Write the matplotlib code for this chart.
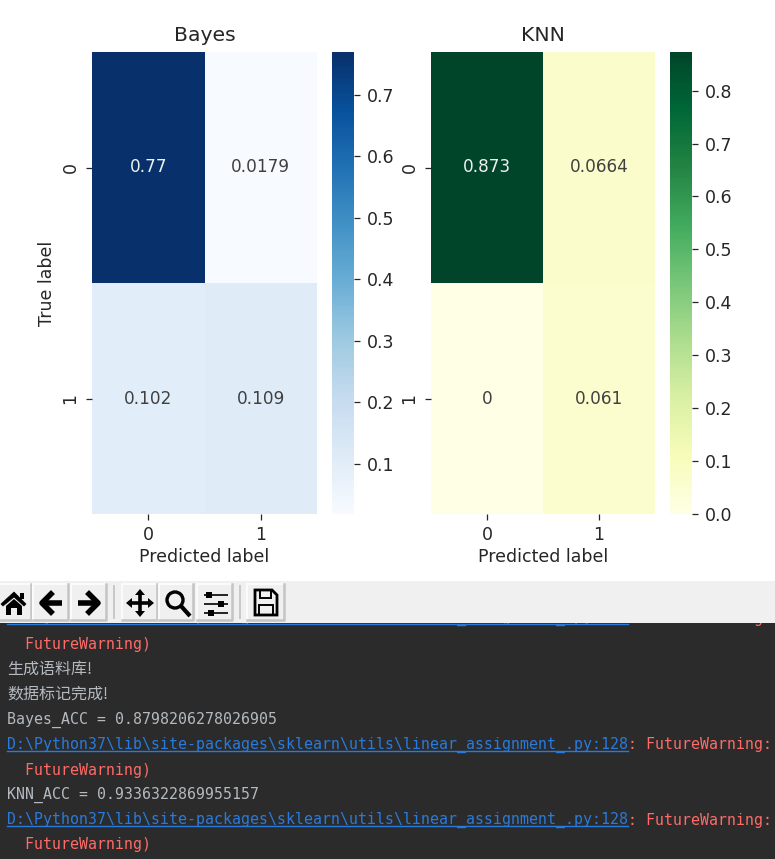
import numpy as np
import matplotlib
matplotlib.use("Agg")
import matplotlib.pyplot as plt
from matplotlib.patches import Rectangle, Polygon, Circle

W, H = 775, 859

titles = ["Bayes", "KNN"]
bayes_matrix = [[0.77, 0.0179], [0.102, 0.109]]
knn_matrix = [[0.873, 0.0664], [0, 0.061]]
bayes_labels = [["0.77", "0.0179"], ["0.102", "0.109"]]
knn_labels = [["0.873", "0.0664"], ["0", "0.061"]]
class_labels = ["0", "1"]
bayes_ticks = [0.1, 0.2, 0.3, 0.4, 0.5, 0.6, 0.7]
knn_ticks = [0.0, 0.1, 0.2, 0.3, 0.4, 0.5, 0.6, 0.7, 0.8]
cmaps = ["Blues", "YlGn"]

LINK = "D:\\Python37\\lib\\site-packages\\sklearn\\utils\\linear_assignment_.py:128"
WARN = ": FutureWarning:"
console = [
    (645, "warn_end", "  FutureWarning)"),
    (669, "cjk", "生成语料库!"),
    (694, "cjk", "数据标记完成!"),
    (720, "plain", "Bayes_ACC = 0.8798206278026905"),
    (745, "link", None),
    (770, "warn_end", "  FutureWarning)"),
    (795, "plain", "KNN_ACC = 0.9336322869955157"),
    (820, "link", None),
    (845, "warn_end", "  FutureWarning)"),
]

fig = plt.figure(figsize=(W / 100, H / 100), dpi=100, facecolor="white")


def box(x0, y0, x1, y1, **kw):
    return fig.add_axes([x0 / W, 1 - y1 / H, (x1 - x0) / W, (y1 - y0) / H], **kw)


# ---- heatmaps -------------------------------------------------------------
FS = 12.5
INK = "#262626"
panels = [
    (92, 317, 332, 354, bayes_matrix, bayes_labels, bayes_ticks, True),
    (431, 655, 670, 692, knn_matrix, knn_labels, knn_ticks, False),
]
for i, (x0, x1, c0, c1, mat, lab, cticks, ylab) in enumerate(panels):
    ax = box(x0, 52, x1, 514)
    m = np.array(mat)
    mesh = ax.pcolormesh(m, cmap=cmaps[i], vmin=m.min(), vmax=m.max())
    ax.set_ylim(2, 0)
    ax.set_xticks([0.5, 1.5], class_labels, fontsize=FS, color=INK)
    ax.set_yticks([0.5, 1.5], class_labels, fontsize=FS, rotation=90, va="center", color=INK)
    ax.tick_params(length=4.5, width=0.9, pad=4.5, color=INK)
    for s in ax.spines.values():
        s.set_visible(False)
    ax.set_title(titles[i], fontsize=14.7, pad=8, color=INK)
    ax.set_xlabel("Predicted label", fontsize=FS, labelpad=2.8, color=INK)
    if ylab:
        ax.set_ylabel("True label", fontsize=FS, labelpad=4, color=INK)
    mid = (m.min() + m.max()) / 2
    for r in range(2):
        for c in range(2):
            ax.text(c + 0.5, r + 0.5, lab[r][c], ha="center", va="center", fontsize=12.2,
                    color="#f0f0f0" if m[r, c] > mid else "#404040")
    cax = box(c0, 52, c1, 514)
    cb = fig.colorbar(mesh, cax=cax)
    cb.outline.set_visible(False)
    cb.set_ticks(cticks)
    cb.ax.tick_params(labelsize=FS, labelcolor=INK, length=4.5, width=0.9, pad=5, color=INK)

# ---- window chrome --------------------------------------------------------
ov = fig.add_axes([0, 0, 1, 1], zorder=5)
ov.set_xlim(0, W)
ov.set_ylim(H, 0)
ov.axis("off")
ov.patch.set_alpha(0)

# console
ov.add_patch(Rectangle((0, 623), W, H - 623, fc="#2b2b2b", ec="none", zorder=1))
MONO = dict(family="DejaVu Sans Mono", fontsize=10.76, va="center", zorder=2)
BLUE, RED, GREY = "#287bde", "#ff6b68", "#b4bac0"


def link_line(y):
    ov.text(7, y, LINK, color=BLUE, **MONO)
    ov.plot([7, 628], [y + 6, y + 6], color=BLUE, lw=1, zorder=2)
    ov.text(628, y, WARN, color=RED, **MONO)


link_line(618)
for y, kind, txt in console:
    if kind == "link":
        link_line(y)
    elif kind == "warn_end":
        ov.text(7, y, txt, color=RED, **MONO)
    elif kind == "plain":
        ov.text(7, y, txt, color=GREY, **MONO)
    else:
        ov.text(7, y, txt, color=GREY, family=["Noto Sans CJK SC", "DejaVu Sans"],
                fontsize=11.5, va="center", zorder=2)

# toolbar
ov.add_patch(Rectangle((0, 581), W, 42, fc="#f0f0f0", ec="none", zorder=3))
for x0, x1 in [(-3, 31), (33, 68), (71, 106), (122, 157), (159, 193), (197, 232), (247, 284)]:
    ov.add_patch(Rectangle((x0, 584), x1 - x0, 36, fc="#f0f0f0", ec="none", zorder=3))
    ov.plot([x0, x0, x1], [620, 584, 584], color="#fbfbfb", lw=1.5, zorder=3)
    ov.plot([x0, x1, x1], [620, 620, 584], color="#c4c4c4", lw=1.8, zorder=3)
for x in (114, 240):
    ov.plot([x, x], [586, 618], color="#c8c8c8", lw=1.4, zorder=3)

K = dict(color="black", zorder=4, solid_capstyle="butt")
# home
ov.add_patch(Polygon([(1, 604), (14, 592), (26, 604), (24, 606), (14, 597), (3, 606)], fc="k", ec="k", lw=0.5, zorder=4))
ov.add_patch(Polygon([(6, 606), (14, 599), (22, 606), (22, 615), (17, 615), (17, 608), (11, 608), (11, 615), (6, 615)], fc="k", ec="none", zorder=4))
ov.add_patch(Rectangle((20, 593), 3.5, 6, fc="k", ec="none", zorder=4))
# back / forward
ov.plot([44, 62], [603, 603], lw=4, **K)
ov.plot([51, 42, 51], [594, 603, 612], lw=4, color="k", zorder=4)
ov.plot([78, 96], [603, 603], lw=4, **K)
ov.plot([89, 98, 89], [594, 603, 612], lw=4, color="k", zorder=4)
# pan
ov.plot([130, 150], [603, 603], lw=2.6, **K)
ov.plot([140, 140], [593, 613], lw=2.6, **K)
for pts in ([(126, 603), (132, 598), (132, 608)], [(154, 603), (148, 598), (148, 608)],
            [(140, 589), (135, 595), (145, 595)], [(140, 617), (135, 611), (145, 611)]):
    ov.add_patch(Polygon(pts, fc="k", ec="none", zorder=4))
# zoom
ov.add_patch(Circle((175, 600), 8, fc="none", ec="k", lw=2.4, zorder=4))
ov.plot([181, 190], [606, 616], lw=3, **K)
# configure
for y, xk in [(595, 209), (604, 221), (613, 211)]:
    ov.plot([204, 228], [y, y], lw=1.2, **K)
    ov.add_patch(Rectangle((xk - 3, y - 3), 6, 6, fc="k", ec="none", zorder=4))
# save
ov.add_patch(Polygon([(255, 590), (272, 590), (277, 595), (277, 615), (255, 615)], fc="none", ec="k", lw=2, zorder=4))
ov.add_patch(Rectangle((260, 590), 11, 8, fc="none", ec="k", lw=1.4, zorder=4))
ov.add_patch(Rectangle((259, 605), 14, 10, fc="none", ec="k", lw=1.4, zorder=4))

fig.savefig("out.png", dpi=100, facecolor="white")
